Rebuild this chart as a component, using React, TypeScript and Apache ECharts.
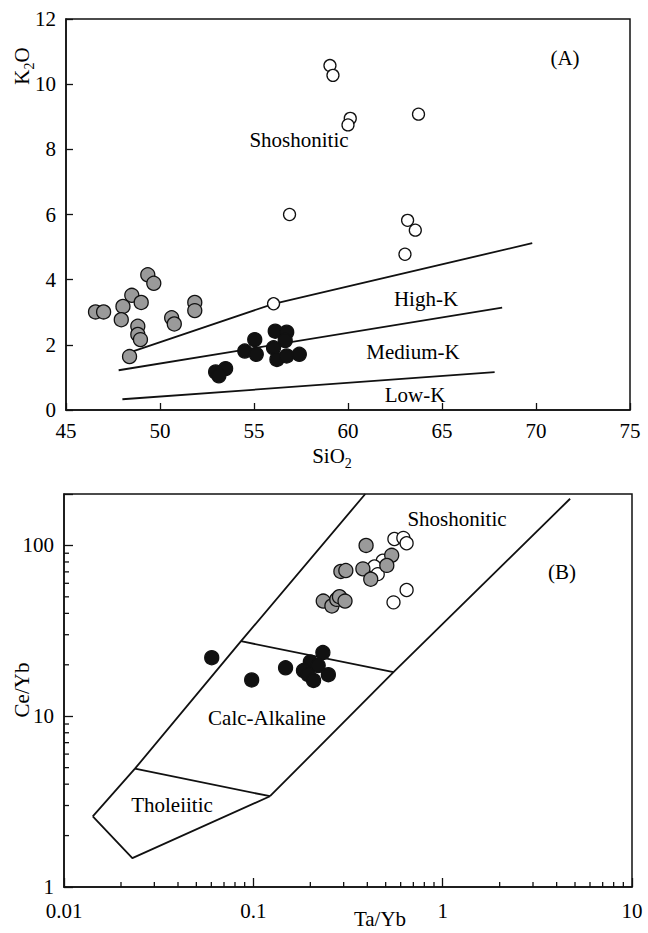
import React, { useEffect, useRef } from 'react';
import * as echarts from 'echarts';

// ---------- Panel A: K2O vs SiO2 ----------
const aOpen = [
  [59.04, 10.57], [59.2, 10.27], [60.12, 8.95], [60.0, 8.75], [63.75, 9.08],
  [56.89, 6.0], [63.17, 5.82], [63.58, 5.52], [63.03, 4.78], [56.04, 3.26],
];
const aGray = [
  [46.57, 3.01], [47.0, 3.01], [48.5, 3.52], [48.03, 3.18], [49.0, 3.3],
  [47.94, 2.77], [48.82, 2.57], [48.82, 2.32], [48.96, 2.16], [48.38, 1.64],
  [50.62, 2.83], [50.76, 2.64], [51.85, 3.3], [51.85, 3.05], [49.35, 4.15], [49.67, 3.89],
];
const aBlack = [
  [55.04, 2.16], [56.13, 2.42], [56.74, 2.39], [56.66, 2.13], [54.51, 1.81],
  [55.12, 1.71], [56.04, 1.91], [56.22, 1.55], [56.74, 1.66], [57.41, 1.71],
  [53.49, 1.27], [52.96, 1.17], [53.13, 1.05],
];
const aLowMed = [[48.0, 0.33], [67.8, 1.16]];
const aMedHigh = [[47.8, 1.22], [68.2, 3.14]];
const aHighSho = [[48.4, 1.77], [56.04, 3.26], [69.8, 5.12]];

// ---------- Panel B: Ce/Yb vs Ta/Yb ----------
const bGray = [
  [0.394, 100], [0.29, 70.4], [0.308, 71.3], [0.379, 72.9], [0.417, 63.4],
  [0.538, 87.5], [0.507, 76.4], [0.234, 47.2], [0.26, 44.2], [0.276, 48.3],
  [0.285, 50.1], [0.305, 47.2],
];
const bOpen = [
  [0.556, 109], [0.62, 110.6], [0.645, 103], [0.483, 81.3], [0.436, 75.3],
  [0.454, 67.9], [0.645, 54.8], [0.55, 46.4],
];
const bBlack = [
  [0.0603, 22.0], [0.098, 16.3], [0.148, 19.2], [0.233, 23.6], [0.2, 20.8],
  [0.22, 19.8], [0.184, 18.5], [0.195, 17.5], [0.208, 16.2], [0.249, 17.5],
];
const bLeft = [[0.01419, 2.59], [0.0237, 4.93], [0.0861, 27.5], [0.39, 200]];
const bRight = [[0.1225, 3.4], [0.55, 18.1], [4.71, 187.6]];
const bTholBase = [[0.01419, 2.59], [0.02296, 1.475], [0.1225, 3.4]];
const bTholTop = [[0.0237, 4.93], [0.1225, 3.4]];
const bCalcTop = [[0.0861, 27.5], [0.55, 18.1]];
const bXMinor = [0.02, 0.03, 0.04, 0.05, 0.06, 0.07, 0.08, 0.09, 0.2, 0.3, 0.4, 0.5, 0.6, 0.7, 0.8, 0.9, 2, 3, 4, 5, 6, 7, 8, 9];
const bYMinor = [2, 3, 4, 5, 6, 7, 8, 9, 20, 30, 40, 50, 60, 70, 80, 90];

const FONT = 'Liberation Serif, DejaVu Serif, serif';
const FS = 21;

export default function App() {
  const ref = useRef<HTMLDivElement>(null);
  useEffect(() => {
    if (!ref.current) return;
    const chart = echarts.init(ref.current, null, { renderer: 'svg' });
    const lineStyle = { color: '#111', width: 1.8 };
    const boundary = (data: number[][], xi: number) => ({
      type: 'line', xAxisIndex: xi, yAxisIndex: xi, data, symbol: 'none',
      lineStyle, silent: true, z: 1,
    });
    const pts = (data: number[][], xi: number, fill: string, size: number, z: number) => ({
      type: 'scatter', xAxisIndex: xi, yAxisIndex: xi, data, symbol: 'circle', symbolSize: size,
      itemStyle: { color: fill, borderColor: '#111', borderWidth: 1.3, opacity: 1 }, z,
    });
    const labelStyle = { fill: '#000', fontSize: FS, fontFamily: FONT };
    const txt = (text: string, x: number, y: number) => ({
      type: 'text', x, y, style: { text, ...labelStyle, align: 'center', verticalAlign: 'middle' },
    });
    const rich = {
      m: { fontSize: FS, lineHeight: 28, fontFamily: FONT, color: '#000' },
      s: { fontSize: 14, lineHeight: 14, verticalAlign: 'bottom', fontFamily: FONT, color: '#000' },
    };
    const axisCommon = {
      axisLine: { show: true, lineStyle: { color: '#111', width: 1.5 } },
      axisTick: { show: true, inside: true, length: 7, lineStyle: { color: '#111', width: 1.3 } },
      axisLabel: { color: '#000', fontSize: FS, fontFamily: FONT },
      splitLine: { show: false },
    };
    const isPow10 = (v: number) => Math.abs(Math.log10(v) - Math.round(Math.log10(v))) < 1e-6;

    chart.setOption({
      animation: false,
      backgroundColor: '#fff',
      grid: [
        { left: 66, top: 19, width: 564, height: 391, show: true, borderColor: '#111', borderWidth: 1.5 },
        { left: 64, top: 494, width: 568, height: 393, show: true, borderColor: '#111', borderWidth: 1.5 },
      ],
      xAxis: [
        { ...axisCommon, gridIndex: 0, type: 'value', min: 45, max: 75, interval: 5,
          axisLabel: { ...axisCommon.axisLabel, margin: 10 } },
        { ...axisCommon, gridIndex: 1, type: 'log', logBase: 10, min: 0.01, max: 10,
          axisTick: { ...axisCommon.axisTick, length: 9 },
          axisLabel: { ...axisCommon.axisLabel, margin: 13, formatter: (v: number) => (isPow10(v) ? String(v) : '') } },
      ],
      yAxis: [
        { ...axisCommon, gridIndex: 0, type: 'value', min: 0, max: 12, interval: 2,
          axisLabel: { ...axisCommon.axisLabel, margin: 10 } },
        { ...axisCommon, gridIndex: 1, type: 'log', logBase: 10, min: 1, max: 200,
          axisTick: { ...axisCommon.axisTick, length: 9 },
          axisLabel: { ...axisCommon.axisLabel, margin: 10, formatter: (v: number) => (isPow10(v) ? String(Math.round(v)) : '') } },
      ],
      series: [
        boundary(aLowMed, 0),
        boundary(aMedHigh, 0),
        boundary(aHighSho, 0),
        pts(aGray, 0, '#9a9a9a', 14, 3),
        pts(aBlack, 0, '#111', 14, 3),
        pts(aOpen, 0, '#fff', 12, 4),
        boundary(bLeft, 1),
        boundary(bRight, 1),
        boundary(bTholBase, 1),
        boundary(bTholTop, 1),
        boundary(bCalcTop, 1),
        pts(bBlack, 1, '#111', 14, 3),
        pts(bOpen, 1, '#fff', 13, 3),
        pts(bGray, 1, '#9a9a9a', 14, 4),
        {
          type: 'custom', xAxisIndex: 1, yAxisIndex: 1, silent: true, z: 5,
          data: bXMinor.map((v) => [v, 1]),
          renderItem: (params: any, api: any) => {
            const p = api.coord([api.value(0), 1]);
            return { type: 'line', shape: { x1: p[0], y1: p[1], x2: p[0], y2: p[1] - 5 },
              style: { stroke: '#111', lineWidth: 1.3 } };
          },
        },
        {
          type: 'custom', xAxisIndex: 1, yAxisIndex: 1, silent: true, z: 5,
          data: bYMinor.map((v) => [0.01, v]),
          renderItem: (params: any, api: any) => {
            const p = api.coord([0.01, api.value(1)]);
            return { type: 'line', shape: { x1: p[0], y1: p[1], x2: p[0] + 5, y2: p[1] },
              style: { stroke: '#111', lineWidth: 1.3 } };
          },
        },
      ],
      graphic: [
        txt('Shoshonitic', 299, 140),
        txt('(A)', 565, 58),
        txt('High-K', 426, 299),
        txt('Medium-K', 413, 352),
        txt('Low-K', 415, 395),
        txt('Shoshonitic', 457, 519),
        txt('(B)', 562, 572),
        txt('Calc-Alkaline', 267, 718),
        txt('Tholeiitic', 172, 805),
        txt('Ta/Yb', 380, 919),
        { type: 'text', x: 332, y: 456,
          style: { text: '{m|SiO}{s|2}', rich, align: 'center', verticalAlign: 'middle' } },
        { type: 'text', x: 22, y: 66, rotation: Math.PI / 2,
          style: { text: '{m|K}{s|2}{m|O}', rich, align: 'center', verticalAlign: 'middle' } },
        { type: 'text', x: 22, y: 690, rotation: Math.PI / 2,
          style: { text: 'Ce/Yb', ...labelStyle, align: 'center', verticalAlign: 'middle' } },
      ],
    });
    return () => chart.dispose();
  }, []);
  return (
    <div ref={ref} style={{ position: 'fixed', left: 0, top: 0, width: 648, height: 933, background: '#fff' }} />
  );
}
